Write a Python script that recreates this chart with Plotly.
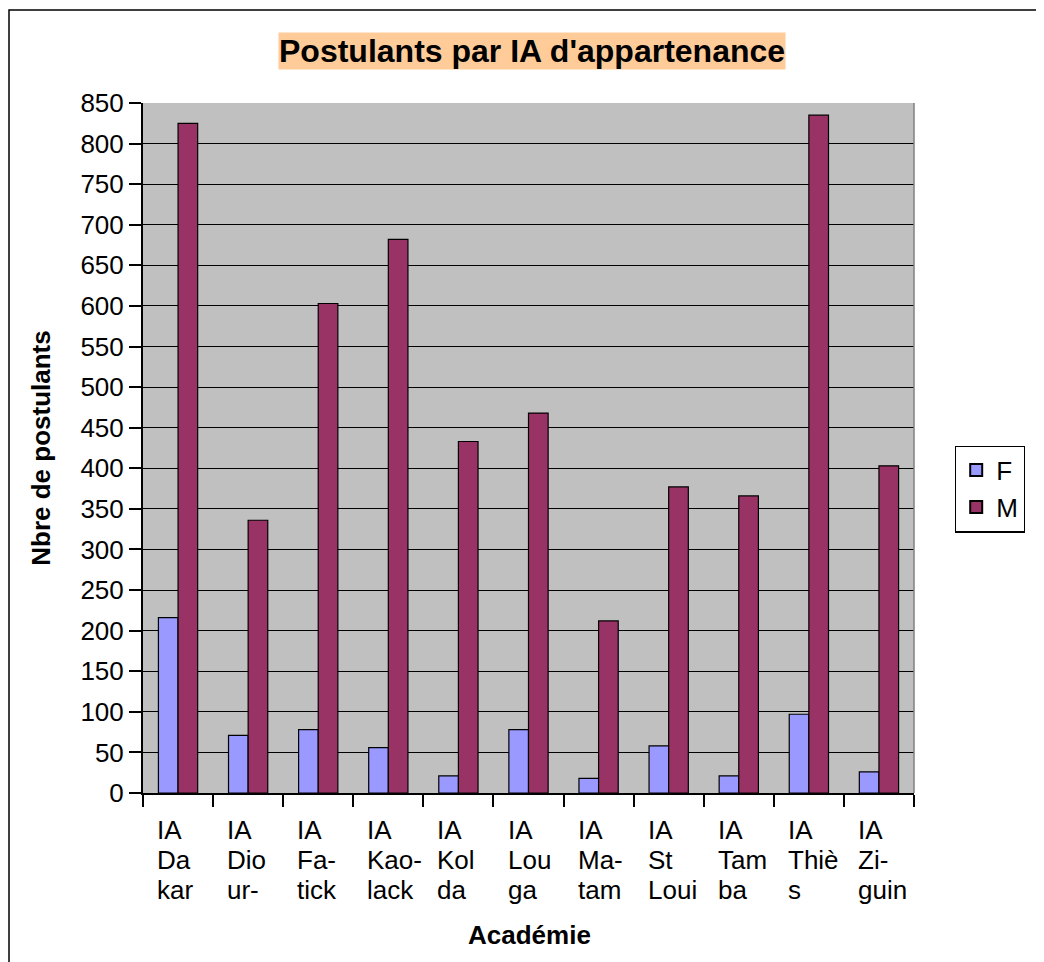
import plotly.graph_objects as go

categories = ["IA Dakar", "IA Diourbel", "IA Fatick", "IA Kaolack", "IA Kolda", "IA Louga",
              "IA Matam", "IA St Louis", "IA Tamba", "IA Thiès", "IA Ziguinchor"]
tick_lines = [["IA", "Da", "kar"], ["IA", "Dio", "ur-"], ["IA", "Fa-", "tick"], ["IA", "Kao-", "lack"],
              ["IA", "Kol", "da"], ["IA", "Lou", "ga"], ["IA", "Ma-", "tam"], ["IA", "St", "Loui"],
              ["IA", "Tam", "ba"], ["IA", "Thiè", "s"], ["IA", "Zi-", "guin"]]
values_f = [216, 71, 78, 56, 21, 78, 18, 58, 21, 97, 26]
values_m = [825, 336, 603, 682, 433, 468, 212, 377, 366, 835, 403]
y_ticks = list(range(0, 851, 50))

FONT = "Liberation Sans, Arial, sans-serif"
OFF = 8  # page body margin

fig = go.Figure()
fig.add_trace(go.Bar(x=categories, y=values_f, name="F",
                     marker=dict(color="#9999FF", line=dict(color="black", width=1.2))))
fig.add_trace(go.Bar(x=categories, y=values_m, name="M",
                     marker=dict(color="#993366", line=dict(color="black", width=1.2))))

# layout in page pixel coordinates
PL, PR, PT, PB = 143, 914, 103, 793
W, H = 1044 - OFF, 962 - OFF
L, T = PL - OFF, PT - OFF
R, B = W - (PR - OFF), H - (PB - OFF)
pw, ph = PR - PL, PB - PT

def px_x(x):
    return (x - PL) / pw

def px_y(y):
    return (PB - y) / ph

fig.update_layout(
    width=W, height=H,
    margin=dict(l=L, r=R, t=T, b=B, pad=0),
    paper_bgcolor="white",
    plot_bgcolor="#C0C0C0",
    barmode="group",
    bargap=0.44,
    bargroupgap=0,
    font=dict(family=FONT, size=26, color="black"),
    showlegend=True,
    legend=dict(x=px_x(955), y=px_y(489), xanchor="left", yanchor="middle",
                bordercolor="black", borderwidth=1.2, bgcolor="white",
                font=dict(family=FONT, size=26), itemsizing="constant",
                itemwidth=30, tracegroupgap=0),
    xaxis=dict(showticklabels=False, ticks="outside", ticklen=12, tickcolor="black",
               tickwidth=1.5, tickson="boundaries", showline=True, linecolor="black",
               linewidth=2, showgrid=False, range=[-0.5, len(categories) - 0.5]),
    yaxis=dict(range=[0, 850], tickvals=y_ticks, ticks="outside", ticklen=12,
               tickcolor="black", tickwidth=1.5, showline=True, linecolor="black",
               linewidth=2, showgrid=True, gridcolor="black", gridwidth=1.3,
               zeroline=False, tickfont=dict(family=FONT, size=26),
               title=dict(text="Nbre de postulants", standoff=22,
                          font=dict(family=FONT, size=26, weight="bold"))),
)

# x tick labels (three left-aligned lines each)
line_tops = [814, 844, 874]
for cat, lines in zip(categories, tick_lines):
    for txt, top in zip(lines, line_tops):
        fig.add_annotation(x=cat, y=px_y(top), xref="x", yref="paper", text=txt,
                           showarrow=False, xanchor="left", yanchor="top", align="left",
                           xshift=-22, font=dict(family=FONT, size=26), borderpad=0)

# x axis title
fig.add_annotation(x=px_x(529), y=px_y(935), xref="paper", yref="paper",
                   text="<b>Académie</b>", showarrow=False, xanchor="center",
                   yanchor="middle", font=dict(family=FONT, size=26))

# chart title with background
fig.add_annotation(x=px_x(532), y=px_y(51), xref="paper", yref="paper",
                   text="<b>Postulants par IA d'appartenance</b>", showarrow=False,
                   xanchor="center", yanchor="middle", bgcolor="#FFCC99",
                   font=dict(family=FONT, size=32), borderpad=0)

# right plot border (gray)
fig.add_shape(type="line", xref="paper", yref="paper", x0=1, x1=1, y0=0, y1=1,
              line=dict(color="#808080", width=1.5))
# outer chart frame
fig.add_shape(type="rect", xref="paper", yref="paper",
              x0=px_x(9), x1=px_x(1037), y0=px_y(975), y1=px_y(10),
              line=dict(color="black", width=1.5), fillcolor="rgba(0,0,0,0)", layer="above")

fig.write_html("out.html")
